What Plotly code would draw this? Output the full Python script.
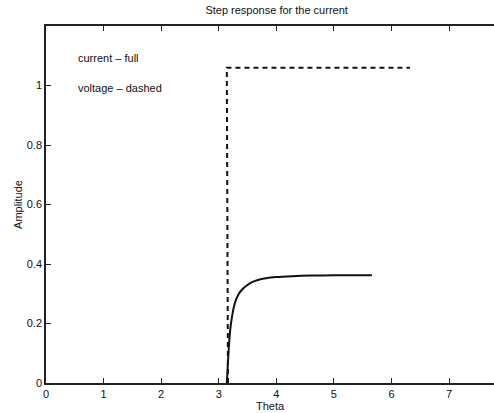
import plotly.graph_objects as go

# Data
current_theta = [3.14, 3.16, 3.18, 3.20, 3.23, 3.26, 3.30, 3.35, 3.41, 3.48, 3.57, 3.68, 3.82, 4.00, 4.27, 4.60, 5.00, 5.66]
current_amp = [0.0, 0.07, 0.135, 0.18, 0.222, 0.254, 0.280, 0.300, 0.315, 0.327, 0.338, 0.346, 0.352, 0.356, 0.359, 0.361, 0.362, 0.362]

voltage_theta = [3.16, 3.14, 3.14, 6.32]
voltage_amp = [0.0, 0.9, 1.06, 1.06]

x_ticks = [0, 1, 2, 3, 4, 5, 6, 7]
y_ticks = [0, 0.2, 0.4, 0.6, 0.8, 1]
y_tick_labels = ["0", "0.2", "0.4", "0.6", "0.8", "1"]

notes = ["current – full", "voltage – dashed"]
note_y = [1.093, 0.993]

font_family = "Liberation Sans, Arial, sans-serif"

fig = go.Figure()
fig.add_trace(go.Scatter(x=voltage_theta, y=voltage_amp, mode="lines",
                         line=dict(color="#111", width=2, dash="5px,4px"),
                         showlegend=False))
fig.add_trace(go.Scatter(x=current_theta, y=current_amp, mode="lines",
                         line=dict(color="#111", width=2, shape="spline", smoothing=0.6),
                         showlegend=False))

for t, yy in zip(notes, note_y):
    fig.add_annotation(x=0.52, y=yy, text=t, showarrow=False, xanchor="left",
                       yanchor="middle", font=dict(family=font_family, size=11, color="#111"))

fig.update_layout(
    width=494, height=413,
    margin=dict(l=46, r=0, t=26, b=30),
    paper_bgcolor="white", plot_bgcolor="white",
    title=dict(text="Step response for the current", x=0.56, xanchor="center",
               y=0.975, yanchor="middle",
               font=dict(family=font_family, size=11, color="#111")),
    font=dict(family=font_family, size=11, color="#111"),
)
fig.update_xaxes(range=[0, 7.78], tickvals=x_ticks, ticktext=[str(v) for v in x_ticks],
                 showgrid=False, zeroline=False, showline=True, linecolor="#222",
                 linewidth=1.5, mirror="ticks", ticks="inside", ticklen=5,
                 tickcolor="#222", tickfont=dict(size=11),
                 title=dict(text="Theta", standoff=0, font=dict(size=11)))
fig.update_yaxes(range=[0, 1.2], tickvals=y_ticks, ticktext=y_tick_labels,
                 showgrid=False, zeroline=False, showline=True, linecolor="#222",
                 linewidth=1.5, mirror=False, ticks="inside", ticklen=5,
                 tickcolor="#222", tickfont=dict(size=11),
                 title=dict(text="Amplitude", standoff=2, font=dict(size=11)))

fig.write_html("out.html")
